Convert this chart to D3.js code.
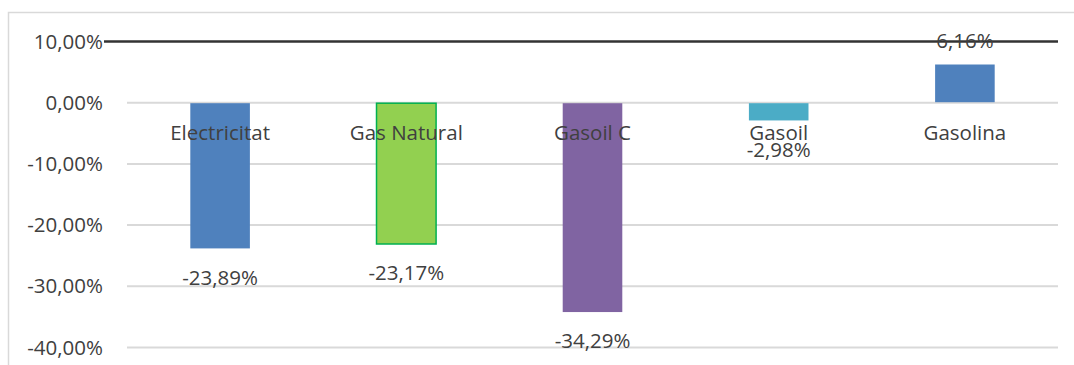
<!DOCTYPE html>
<html>
<head>
<meta charset="utf-8">
<script src="https://cdn.jsdelivr.net/npm/d3@7"></script>
<style>
  html, body { margin: 0; padding: 0; background: #fff; }
  svg { display: block; font-family: "Open Sans", sans-serif; }
</style>
</head>
<body>
<svg id="chart" width="1074" height="365"></svg>
<script>
// Year-on-year variation by energy source
const categories = ["Electricitat", "Gas Natural", "Gasoil C", "Gasoil", "Gasolina"];
const values = [-23.89, -23.17, -34.29, -2.98, 6.16];
const fills = ["#4F81BD", "#92D050", "#8064A2", "#4BACC6", "#4F81BD"];
const strokes = [null, "#00B050", null, null, null];
const yTicks = [10, 0, -10, -20, -30, -40];

const svg = d3.select("#chart");
const W = 1074, H = 365;
const plot = { left: 127, right: 1058, top: 41, bottom: 347 };
const textColor = "#404040";
const fontSize = 20.5;

// percentage with decimal comma and a plain hyphen for negatives
const fmt = v => d3.format(".2f")(v).replace("\u2212", "-").replace(".", ",") + "%";

// chart frame
svg.append("rect")
  .attr("x", 8.5).attr("y", 12.5)
  .attr("width", W + 10).attr("height", H + 10)
  .attr("fill", "#fff").attr("stroke", "#D9D9D9").attr("stroke-width", 1.5);

const x = d3.scaleBand()
  .domain(categories)
  .range([plot.left, plot.right])
  .paddingInner(0.68).paddingOuter(0.34);

const y = d3.scaleLinear()
  .domain([-40, 10])
  .range([plot.bottom, plot.top]);

// horizontal gridlines and tick labels
const yAxis = d3.axisLeft(y)
  .tickValues(yTicks)
  .tickSize(-(plot.right - plot.left))
  .tickPadding(24)
  .tickFormat(fmt);

const ga = svg.append("g")
  .attr("transform", `translate(${plot.left},0)`)
  .call(yAxis);
ga.select(".domain").remove();
ga.selectAll(".tick line")
  .attr("stroke", "#D9D9D9").attr("stroke-width", 2);
ga.selectAll(".tick text")
  .attr("fill", textColor)
  .attr("font-size", fontSize)
  .attr("font-family", "'Open Sans', sans-serif")
  .attr("dy", "0.35em");
// top gridline drawn as a dark rule reaching the tick label
ga.selectAll(".tick").filter(d => d === 10).select("line")
  .attr("stroke", "#333333").attr("stroke-width", 2.5)
  .attr("x1", 104 - plot.left);

// bars
svg.append("g").selectAll("rect")
  .data(categories)
  .join("rect")
  .attr("x", d => x(d))
  .attr("width", x.bandwidth())
  .attr("y", (d, i) => Math.min(y(values[i]), y(0)) + (values[i] < 0 ? 1 : 0))
  .attr("height", (d, i) => Math.abs(y(values[i]) - y(0)) - (values[i] < 0 ? 1 : 0))
  .attr("fill", (d, i) => fills[i])
  .attr("stroke", (d, i) => strokes[i] || "none")
  .attr("stroke-width", 1.5);

// category labels below the zero line
svg.append("g").selectAll("text")
  .data(categories)
  .join("text")
  .attr("x", d => x(d) + x.bandwidth() / 2)
  .attr("y", y(0) + 31)
  .attr("dy", "0.35em")
  .attr("text-anchor", "middle")
  .attr("font-size", fontSize)
  .attr("fill", textColor)
  .text(d => d);

// value labels at the end of each bar
svg.append("g").selectAll("text")
  .data(categories)
  .join("text")
  .attr("x", d => x(d) + x.bandwidth() / 2)
  .attr("y", (d, i) => values[i] < 0 ? y(values[i]) + 29 : y(values[i]) - 24)
  .attr("dy", "0.35em")
  .attr("text-anchor", "middle")
  .attr("font-size", fontSize)
  .attr("fill", textColor)
  .text((d, i) => fmt(values[i]));
</script>
</body>
</html>
